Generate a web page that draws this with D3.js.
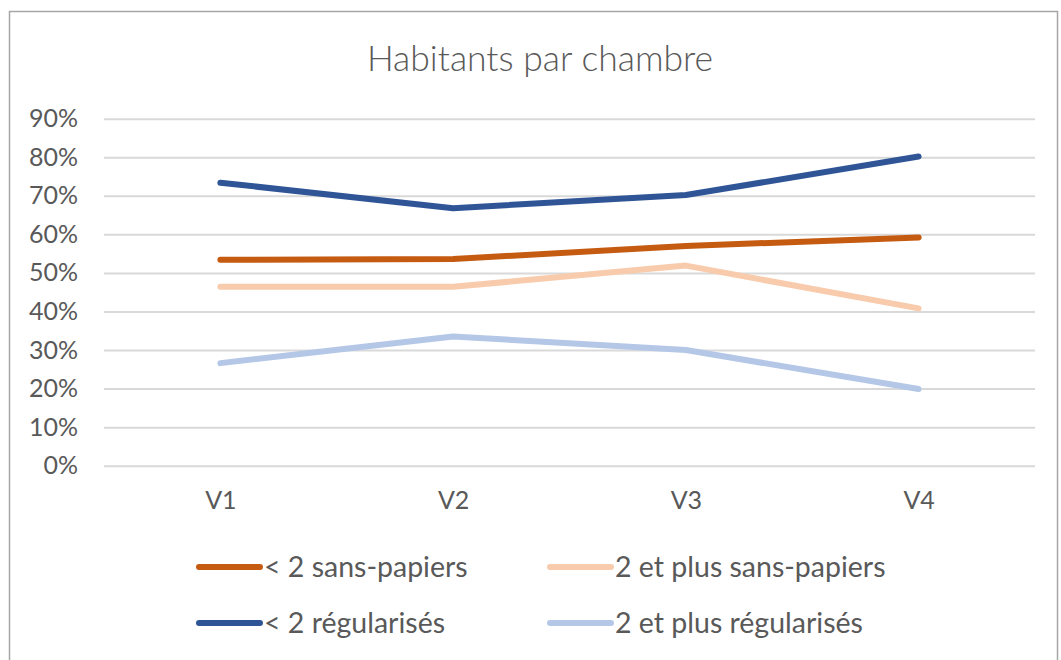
<!DOCTYPE html>
<html>
<head>
<meta charset="utf-8">
<script src="https://cdn.jsdelivr.net/npm/d3@7"></script>
<style>
  body { margin: 0; background: #fff; }
  text { font-family: Lato, "Open Sans", sans-serif; fill: #595959; }
</style>
</head>
<body>
<svg id="chart" width="1061" height="660"></svg>
<script>
const title = "Habitants par chambre";
const categories = ["V1", "V2", "V3", "V4"];
const yTicks = [0, 0.1, 0.2, 0.3, 0.4, 0.5, 0.6, 0.7, 0.8, 0.9];

const seriesNames = ["< 2 sans-papiers", "2 et plus sans-papiers", "< 2 régularisés", "2 et plus régularisés"];
const seriesColors = ["#C55A11", "#F8CBAD", "#2F5597", "#B4C7E7"];
const lessTwoSansPapiers = [0.534, 0.536, 0.570, 0.592];
const twoPlusSansPapiers = [0.464, 0.464, 0.519, 0.408];
const lessTwoRegularises = [0.734, 0.668, 0.702, 0.802];
const twoPlusRegularises = [0.266, 0.335, 0.300, 0.199];
const seriesValues = [lessTwoSansPapiers, twoPlusSansPapiers, lessTwoRegularises, twoPlusRegularises];

const svg = d3.select("#chart");

// outer chart frame
svg.append("rect")
  .attr("x", 9.5).attr("y", 11.5)
  .attr("width", 1048).attr("height", 660)
  .attr("fill", "#fff")
  .attr("stroke", "#a6a6a6")
  .attr("stroke-width", 1.5);

const plot = { left: 104, right: 1035, top: 118.7, bottom: 465.7 };

const x = d3.scalePoint()
  .domain(categories)
  .range([plot.left, plot.right])
  .padding(0.5);

const y = d3.scaleLinear()
  .domain([0, 0.9])
  .range([plot.bottom, plot.top]);

svg.append("text")
  .attr("x", 540).attr("y", 71)
  .attr("text-anchor", "middle")
  .style("font-size", "35.5px")
  .style("font-weight", 300)
  .text(title);

// gridlines
svg.append("g")
  .attr("transform", `translate(${plot.left},0)`)
  .call(d3.axisLeft(y).tickValues(yTicks).tickSize(-(plot.right - plot.left)).tickFormat(""))
  .call(g => g.select(".domain").remove())
  .call(g => g.selectAll("line").attr("stroke", "#d9d9d9").attr("stroke-width", 2));

// y labels
svg.append("g")
  .attr("transform", "translate(78,0)")
  .call(d3.axisLeft(y).tickValues(yTicks).tickSize(0).tickPadding(0).tickFormat(d3.format(".0%")))
  .call(g => g.select(".domain").remove())
  .call(g => g.selectAll("text").style("font-size", "25px").attr("fill", "#595959"));

// x labels
svg.append("g")
  .attr("transform", `translate(0,${plot.bottom})`)
  .call(d3.axisBottom(x).tickSize(0).tickPadding(26))
  .call(g => g.select(".domain").remove())
  .call(g => g.selectAll("text").style("font-size", "25px").attr("fill", "#595959"));

const line = d3.line()
  .x((d, i) => x(categories[i]))
  .y(d => y(d));

svg.append("g")
  .selectAll("path")
  .data(seriesValues)
  .join("path")
  .attr("d", d => line(d))
  .attr("fill", "none")
  .attr("stroke", (d, i) => seriesColors[i])
  .attr("stroke-width", 6)
  .attr("stroke-linecap", "round")
  .attr("stroke-linejoin", "round");

// legend
const legendPos = [[197, 567], [548, 567], [197, 623], [548, 623]];
const legend = svg.append("g")
  .selectAll("g")
  .data(seriesNames)
  .join("g")
  .attr("transform", (d, i) => `translate(${legendPos[i][0]},${legendPos[i][1]})`);

legend.append("line")
  .attr("x1", 2).attr("x2", 63)
  .attr("stroke", (d, i) => seriesColors[i])
  .attr("stroke-width", 6)
  .attr("stroke-linecap", "round");

legend.append("text")
  .attr("x", 67).attr("dy", "0.35em")
  .style("font-size", "28.5px")
  .text(d => d);
</script>
</body>
</html>
